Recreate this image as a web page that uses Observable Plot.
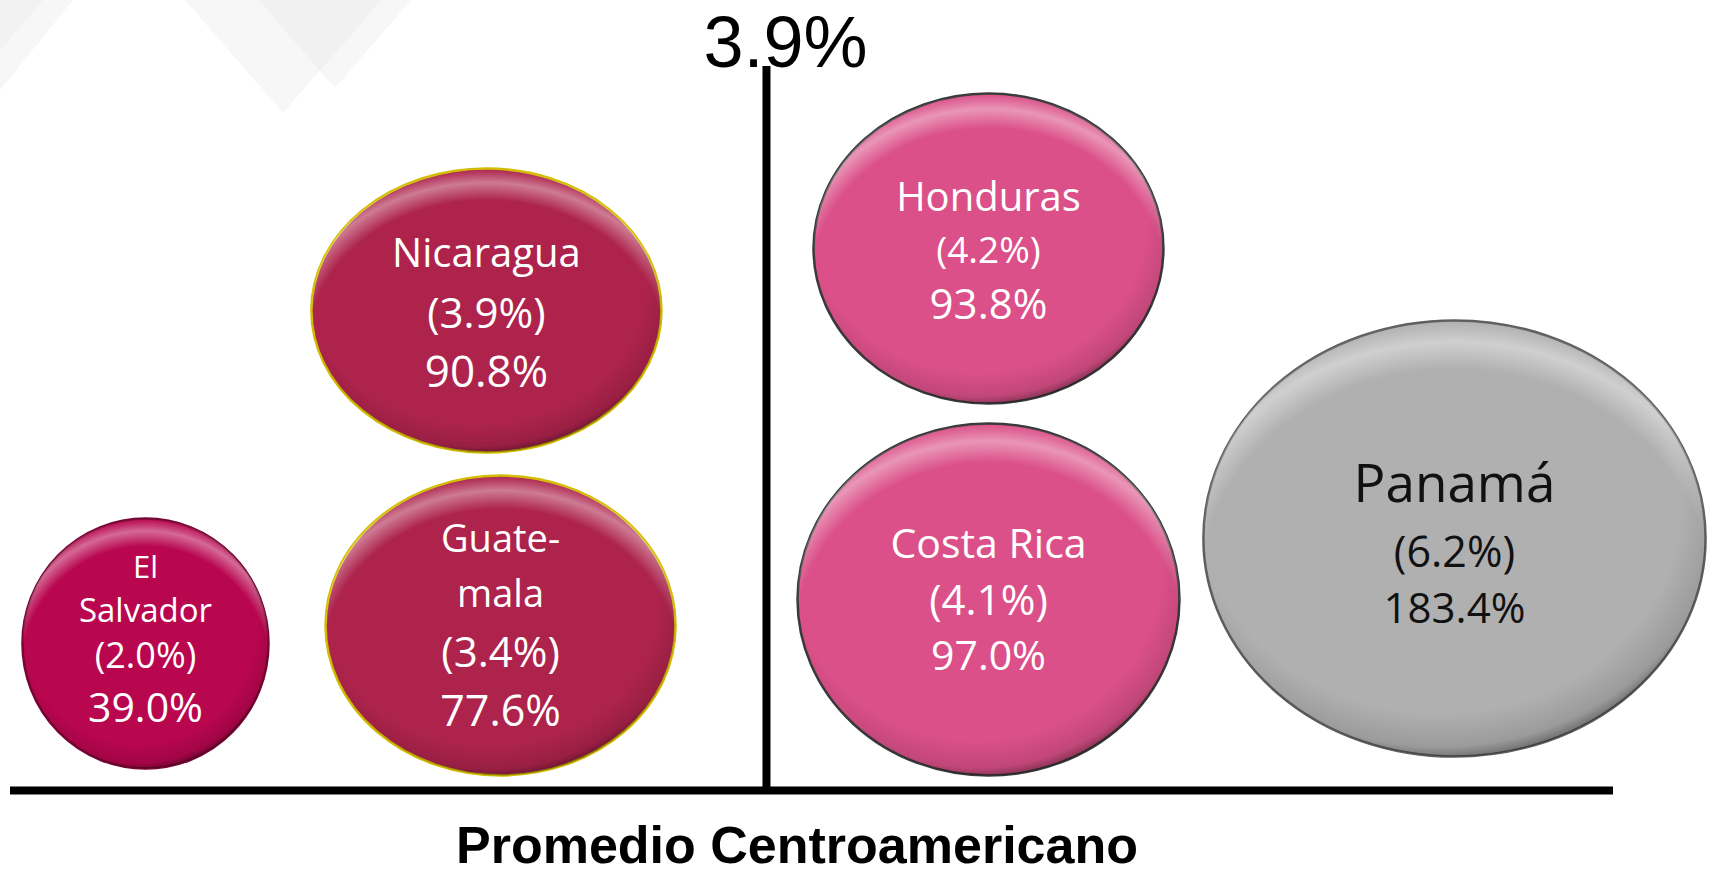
<!DOCTYPE html>
<html>
<head>
<meta charset="utf-8">
<script src="https://cdn.jsdelivr.net/npm/d3@7"></script>
<script src="https://cdn.jsdelivr.net/npm/@observablehq/plot@0.6"></script>
<style>
  html, body { margin: 0; padding: 0; background: #fff; overflow: hidden; }
  #wrap { position: relative; width: 1712px; height: 875px; background: #fff; overflow: hidden; }
  #deco { position: absolute; left: 0; top: 0; }
  #chart { position: absolute; left: 0; top: 0; }
  #caption {
    position: absolute; left: 0; top: 819px; width: 1594px; height: 52px;
    text-align: center; font-family: "Liberation Sans", Arial, sans-serif;
    font-weight: bold; font-size: 52px; line-height: 52px; color: #000;
  }
</style>
</head>
<body>
<div id="wrap">
  <svg id="deco" width="1712" height="875" aria-hidden="true">
    <polygon points="185,0 381,0 283,113" fill="#f7f7f7"/>
    <polygon points="259,0 411,0 335,88" fill="#f7f7f7"/>
    <polygon points="259,0 381,0 320,71" fill="#f1f1f1"/>
    <polygon points="0,0 73,0 0,90" fill="#f7f7f7"/>
    <polygon points="0,0 43,0 0,50" fill="#f2f2f2"/>
  </svg>
  <div id="chart"></div>
  <div id="caption"></div>
</div>
<script>
// ---------- data ----------
const countries = ["El Salvador", "Guatemala", "Nicaragua", "Honduras", "Costa Rica", "Panamá"];
const nameLines = [["El", "Salvador"], ["Guate-", "mala"], ["Nicaragua"], ["Honduras"], ["Costa Rica"], ["Panamá"]];
const growth = [2.0, 3.4, 3.9, 4.2, 4.1, 6.2];
const debt = [39.0, 77.6, 90.8, 93.8, 97.0, 183.4];
const averageGrowth = 3.9;
const averageLabel = "Promedio Centroamericano";

// ---------- layout (schematic positions, in % of the frame) ----------
const posX = [8.42, 30.57, 29.69, 61.01, 61.01, 90.08];
const posY = [20.30, 22.79, 66.30, 74.86, 26.38, 34.81];
const avgX = 47.16;
const stretch = [[0.992, 1.008], [1.076, 0.922], [1.009, 0.818], [0.995, 0.881], [1.071, 0.987], [1.073, 0.932]];
const lineOffsets = [[-66, -22, 24, 78], [-74, -19, 41, 100], [-43, 18, 77], [-38, 14, 70], [-42, 15, 70], [-36, 29, 85]];
const lineSizes = [[31, 33, 36, 41], [38, 38, 42, 43], [40, 42, 44], [40, 37, 42], [41, 42, 41], [53, 43, 42]];

// ---------- styles ----------
const fills = ["#b8064f", "#ad234c", "#ad234c", "#db5089", "#db5089", "#b0b0b0"];
const strokes = ["#7a0634", "#d2bd00", "#d2bd00", "#3a3a3a", "#3a3a3a", "#5e5e5e"];
const inks = ["#ffffff", "#ffffff", "#ffffff", "#ffffff", "#ffffff", "#111111"];

const W = 1712, H = 824, mL = 10, mR = 99, mT = 66, mB = 34;
const unitY = (H - mT - mB) / 100;

const bubbles = countries.map((c, i) => ({
  country: c, growth: growth[i], debt: debt[i], x: posX[i], y: posY[i], fill: fills[i], stroke: strokes[i]
}));
const labels = bubbles.flatMap((b, i) => {
  const lines = [...nameLines[i], `(${growth[i].toFixed(1)}%)`, `${debt[i].toFixed(1)}%`];
  return lines.map((t, j) => ({text: t, x: b.x, y: b.y - lineOffsets[i][j] / unitY, size: lineSizes[i][j], ink: inks[i]}));
});

const plot = Plot.plot({
  width: W, height: H,
  marginLeft: mL, marginRight: mR, marginTop: mT, marginBottom: mB,
  x: {domain: [0, 100], axis: null},
  y: {domain: [0, 100], axis: null},
  r: {type: "sqrt", domain: d3.extent(debt), range: [124, 234]},
  color: {type: "identity"},
  style: {background: "transparent", overflow: "visible"},
  marks: [
    Plot.ruleY([0], {stroke: "#000", strokeWidth: 8}),
    Plot.ruleX([averageGrowth], {x: () => avgX, stroke: "#000", strokeWidth: 8}),
    Plot.text([averageGrowth], {
      x: () => avgX, y: () => 100, text: d => `${d.toFixed(1)}%`,
      textAnchor: "start", lineAnchor: "bottom", dx: -63, dy: 0,
      fontSize: 72, fontFamily: "Liberation Sans, Arial, sans-serif", fill: "#000"
    }),
    Plot.dot(bubbles, {x: "x", y: "y", r: "debt", fill: d => d.fill, stroke: d => d.stroke, strokeWidth: 2.5, sort: null}),
    Plot.dot(bubbles, {x: "x", y: "y", r: "debt", fill: "white", sort: null}),
    Plot.dot(bubbles, {x: "x", y: "y", r: "debt", fill: "white", sort: null}),
    Plot.text(labels, {
      x: "x", y: "y", text: "text", fontSize: d => d.size, fill: d => d.ink,
      lineAnchor: "bottom", textAnchor: "middle", fontFamily: "Open Sans, sans-serif"
    })
  ]
});

const svg = plot.tagName.toLowerCase() === "svg" ? plot : plot.querySelector("svg");
const S = d3.select(svg);
const defs = S.insert("defs", ":first-child");
const hl = defs.append("radialGradient").attr("id", "hl").attr("cx", 0.5).attr("cy", 0.62).attr("r", 0.62);
[[0.82, 0], [0.92, 0.4], [0.97, 0.14], [1, 0]].forEach(([o, a]) =>
  hl.append("stop").attr("offset", o).attr("stop-color", "#fff").attr("stop-opacity", a));
const sh = defs.append("radialGradient").attr("id", "shade").attr("cx", 0.47).attr("cy", 0.42).attr("r", 0.6);
[[0.8, 0], [0.93, 0.12], [1, 0.5]].forEach(([o, a]) =>
  sh.append("stop").attr("offset", o).attr("stop-color", "#000").attr("stop-opacity", a));

const dotGroups = S.selectAll('g[aria-label="dot"]').nodes();
dotGroups.forEach((g, gi) => {
  d3.select(g).selectAll("circle, path").each(function (_, i) {
    const el = d3.select(this);
    let cx = +el.attr("cx"), cy = +el.attr("cy");
    if (isNaN(cx) || el.attr("cx") == null) {
      const m = /translate\(([-\d.e]+)[ ,]+([-\d.e]+)\)/.exec(el.attr("transform") || "");
      if (m) { cx = +m[1]; cy = +m[2]; el.attr("transform", null); }
    }
    const [sx, sy] = stretch[i];
    el.attr("transform", `translate(${cx},${cy}) scale(${sx},${sy}) translate(${-cx},${-cy})`)
      .attr("vector-effect", "non-scaling-stroke");
    if (gi === 1) el.attr("fill", "url(#hl)").attr("stroke", "none");
    if (gi === 2) el.attr("fill", "url(#shade)").attr("stroke", "none");
  });
});

document.getElementById("chart").appendChild(plot);
document.getElementById("caption").textContent = averageLabel;
</script>
</body>
</html>
